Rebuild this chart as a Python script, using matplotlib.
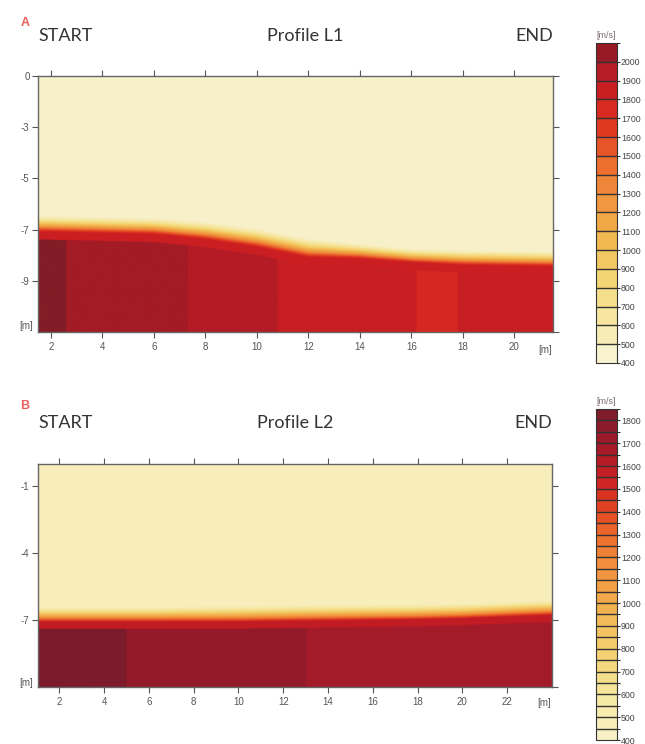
import numpy as np
import matplotlib
matplotlib.use("Agg")
from matplotlib import pyplot as plt
from matplotlib.colors import LinearSegmentedColormap, ListedColormap, BoundaryNorm, Normalize
import matplotlib as mpl

plt.rcParams["font.family"] = ["Liberation Sans", "DejaVu Sans"]

# ---- profile L1 (panel A) ----
l1_iface_x = [1.5, 6, 8, 10, 12, 14, 16, 18, 21.5]
l1_iface_top = [-6.45, -6.55, -6.7, -6.95, -7.35, -7.55, -7.75, -7.8, -7.85]
l1_iface_red = [-7.1, -7.2, -7.4, -7.7, -8.1, -8.15, -8.3, -8.4, -8.45]
l1_block_edges = [1.5, 2.58, 7.32, 10.8, 16.2, 17.8, 21.5]
l1_block_vel = [2100, 2010, 1960, 1870, 1760, 1870]
l1_v_top = 470
l1_v_red = 1850
l1_xticks = [2, 4, 6, 8, 10, 12, 14, 16, 18, 20]
l1_yticks = [-1, -3, -5, -7, -9]
l1_ylabels = ["0", "-3", "-5", "-7", "-9"]
l1_cbar_levels = list(range(400, 2101, 100))
l1_cbar_ticks = list(range(400, 2001, 100))
l1_cmap_pts = [(400, "#f9f4d6"), (450, "#f8f2cf"), (550, "#f7ecb5"), (650, "#f6e6a0"),
               (750, "#f5df8a"), (850, "#f4d573"), (950, "#f3c862"), (1050, "#f2b850"),
               (1150, "#f1a847"), (1250, "#f09840"), (1350, "#ee873a"), (1450, "#ec7030"),
               (1550, "#e65528"), (1650, "#df3a22"), (1750, "#d82a20"), (1850, "#cb1f22"),
               (1950, "#b81b26"), (2050, "#981b25"), (2100, "#821c26")]

# ---- profile L2 (panel B) ----
l2_iface_x = [1.05, 6, 10, 14, 18, 20, 22.5, 24.0]
l2_iface_top = [-6.4, -6.4, -6.35, -6.3, -6.28, -6.25, -6.15, -6.1]
l2_iface_red = [-7.1, -7.1, -7.1, -7.05, -7.0, -6.95, -6.85, -6.8]
l2_block_edges = [1.05, 5.0, 13.05, 24.0]
l2_block_vel = [1840, 1745, 1690]
l2_v_top = 470
l2_v_red = 1590
l2_xticks = [2, 4, 6, 8, 10, 12, 14, 16, 18, 20, 22]
l2_yticks = [-1, -4, -7]
l2_ylabels = ["-1", "-4", "-7"]
l2_cbar_levels = list(range(400, 1851, 50))
l2_cbar_ticks = list(range(400, 1801, 100))
l2_cmap_pts = [(400, "#f8f2cc"), (500, "#f7edb5"), (600, "#f6e69e"), (700, "#f5dc85"),
               (800, "#f4cf6e"), (900, "#f3c05c"), (1000, "#f3ad4c"), (1100, "#f29c42"),
               (1200, "#f0883a"), (1300, "#ec6c2c"), (1400, "#e34a22"), (1500, "#d42a22"),
               (1600, "#c01b24"), (1700, "#a11a29"), (1800, "#861b2b"), (1850, "#7a1c2b")]


def make_cmap(pts):
    lo, hi = pts[0][0], pts[-1][0]
    return LinearSegmentedColormap.from_list(
        "vel", [((v - lo) / (hi - lo), c) for v, c in pts]), lo, hi


def velocity_model(xlim, ylim, ix, itop, ired, edges, vel, v_top, v_red):
    xs = np.linspace(xlim[0], xlim[1], 800)
    zs = np.linspace(ylim[0], ylim[1], 500)
    X, Z = np.meshgrid(xs, zs)
    ztop = np.interp(xs, ix, itop)[None, :]
    zred = np.interp(xs, ix, ired)[None, :]
    t = np.clip((ztop - Z) / (ztop - zred), 0, 1) ** 1.4
    V = v_top + (v_red - v_top) * t
    idx = np.clip(np.searchsorted(edges, xs) - 1, 0, len(vel) - 1)
    vblk = np.array(vel)[idx][None, :] * np.ones_like(Z)
    below = Z < (zred - 0.3)
    V[below] = vblk[below]
    return V


def draw_panel(fig, rect, xlim, ylim, V, cmap, lo, hi, xticks, yticks, ylabels,
               rticks, letter, title, ylab_y, head_y, letter_y):
    ax = fig.add_axes(rect)
    ax.imshow(V, extent=[xlim[0], xlim[1], ylim[0], ylim[1]], origin="lower",
              aspect="auto", cmap=cmap, norm=Normalize(lo, hi), interpolation="bilinear")
    ax.set_xlim(xlim)
    ax.set_ylim(ylim)
    ax.set_xticks(xticks)
    ax.set_yticks(yticks)
    ax.set_yticklabels(ylabels)
    ax.tick_params(direction="out", length=4, width=0.8, color="#555555",
                   labelsize=7, labelcolor="#555555", top=True, pad=3)
    ax.tick_params(axis="y", pad=2)
    for s in ax.spines.values():
        s.set_color("#666666")
        s.set_linewidth(1.0)
    # right side ticks without labels
    sec = ax.secondary_yaxis("right")
    sec.set_yticks(rticks)
    sec.set_yticklabels([])
    sec.tick_params(direction="out", length=4, width=0.8, color="#555555")
    sec.spines["right"].set_visible(False)
    ax.text(-0.01, ylab_y, "[m]", transform=ax.transAxes, ha="right", va="center",
            fontsize=7, color="#555555")
    ax.text(0.985, -0.05, "[m]", transform=ax.transAxes, ha="center", va="top",
            fontsize=7, color="#555555")
    ax.text(0.0, head_y, "START", transform=ax.transAxes, ha="left", va="center",
            fontsize=13, color="#333333", family="Lato")
    ax.text(title[1], head_y, title[0], transform=ax.transAxes, ha="center", va="center",
            fontsize=13, color="#333333", family="Lato")
    ax.text(1.0, head_y, "END", transform=ax.transAxes, ha="right", va="center",
            fontsize=13, color="#333333", family="Lato")
    ax.text(-0.025, letter_y, letter, transform=ax.transAxes,
            ha="center", va="center", fontsize=9, color="#e8605a", fontweight="bold")
    return ax


def draw_cbar(fig, rect, levels, ticks, cmap, lo, hi):
    cax = fig.add_axes(rect)
    centers = [(a + b) / 2 for a, b in zip(levels[:-1], levels[1:])]
    cols = [cmap((c - lo) / (hi - lo)) for c in centers]
    lcm = ListedColormap(cols)
    norm = BoundaryNorm(levels, lcm.N)
    cb = mpl.colorbar.ColorbarBase(cax, cmap=lcm, norm=norm, boundaries=levels,
                                   ticks=ticks, drawedges=True)
    cb.dividers.set_color("#333333")
    cb.dividers.set_linewidth(1.0)
    cb.outline.set_edgecolor("#333333")
    cb.outline.set_linewidth(0.8)
    cax.tick_params(length=2, width=0.8, color="#333333", labelsize=6.3,
                    labelcolor="#444444", pad=0.8)
    cax.text(0.5, 1.01, "[m/s]", transform=cax.transAxes, ha="center", va="bottom",
             fontsize=6.5, color="#7a6a6a")
    return cb


fig = plt.figure(figsize=(6.45, 7.44), dpi=100)

cm1, lo1, hi1 = make_cmap(l1_cmap_pts)
xl1, yl1 = (1.5, 21.5), (-11, -1)
V1 = velocity_model(xl1, yl1, l1_iface_x, l1_iface_top, l1_iface_red,
                    l1_block_edges, l1_block_vel, l1_v_top, l1_v_red)
draw_panel(fig, [38 / 645, 1 - 332 / 744, 515 / 645, 256 / 744], xl1, yl1, V1, cm1,
           lo1, hi1, l1_xticks, l1_yticks, l1_ylabels, l1_yticks + [-11], "A",
           ("Profile L1", 0.518), 0.025, 1.156, 1.207)
draw_cbar(fig, [596 / 645, 1 - 363 / 744, 21 / 645, 320 / 744], l1_cbar_levels,
          l1_cbar_ticks, cm1, lo1, hi1)

cm2, lo2, hi2 = make_cmap(l2_cmap_pts)
xl2, yl2 = (1.05, 24.0), (-10, 0)
V2 = velocity_model(xl2, yl2, l2_iface_x, l2_iface_top, l2_iface_red,
                    l2_block_edges, l2_block_vel, l2_v_top, l2_v_red)
draw_panel(fig, [38 / 645, 1 - 687 / 744, 514 / 645, 223 / 744], xl2, yl2, V2, cm2,
           lo2, hi2, l2_xticks, l2_yticks, l2_ylabels, l2_yticks + [-10], "B",
           ("Profile L2", 0.50), 0.02, 1.184, 1.26)
draw_cbar(fig, [596 / 645, 1 - 740 / 744, 21 / 645, 331 / 744], l2_cbar_levels,
          l2_cbar_ticks, cm2, lo2, hi2)

fig.savefig("out.png", dpi=100)
